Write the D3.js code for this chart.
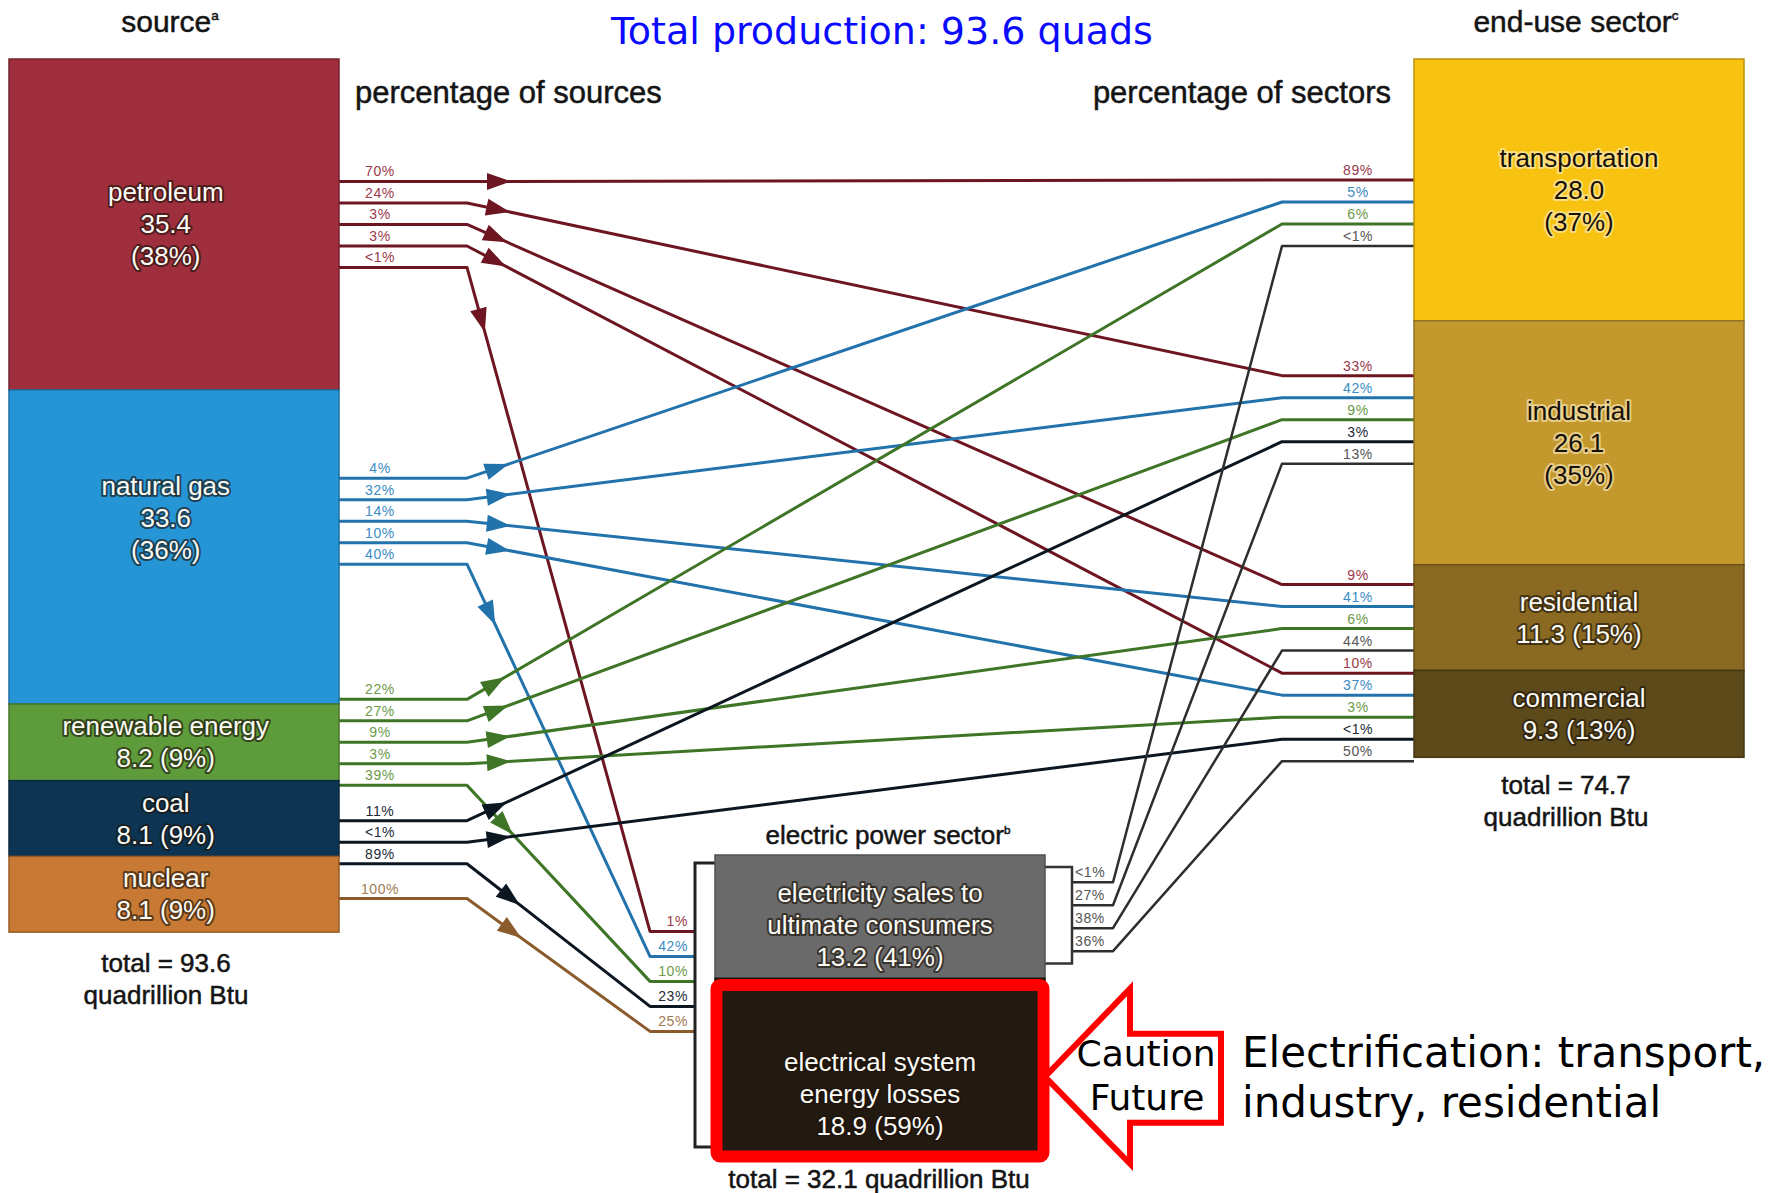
<!DOCTYPE html>
<html>
<head>
<meta charset="utf-8">
<script src="https://cdn.jsdelivr.net/npm/d3@7"></script>
<style>
  html, body { margin: 0; padding: 0; background: #fff; }
  svg { display: block; }
</style>
</head>
<body>
<svg id="chart" width="1785" height="1193"></svg>
<script>
// ---- data, quadrillion Btu ----
const sourceNames = ["petroleum", "natural gas", "renewable energy", "coal", "nuclear"];
const sourceValues = [35.4, 33.6, 8.2, 8.1, 8.1];
const sourceShares = ["38%", "36%", "9%", "9%", "9%"];
const sourceTotal = 93.6; // as printed (the rounded parts add up to 93.4)

const sectorNames = ["transportation", "industrial", "residential", "commercial"];
const sectorValues = [28.0, 26.1, 11.3, 9.3];
const sectorShares = ["37%", "35%", "15%", "13%"];

const powerNames = ["electricity sales to|ultimate consumers", "electrical system|energy losses"];
const powerValues = [13.2, 18.9];
const powerShares = ["41%", "59%"];

// [from, to, share of "from", share of "to"]
const flows = [
  ["petroleum", "transportation", "70%", "89%"],
  ["petroleum", "industrial", "24%", "33%"],
  ["petroleum", "residential", "3%", "9%"],
  ["petroleum", "commercial", "3%", "10%"],
  ["petroleum", "electric power", "<1%", "1%"],
  ["natural gas", "transportation", "4%", "5%"],
  ["natural gas", "industrial", "32%", "42%"],
  ["natural gas", "residential", "14%", "41%"],
  ["natural gas", "commercial", "10%", "37%"],
  ["natural gas", "electric power", "40%", "42%"],
  ["renewable energy", "transportation", "22%", "6%"],
  ["renewable energy", "industrial", "27%", "9%"],
  ["renewable energy", "residential", "9%", "6%"],
  ["renewable energy", "commercial", "3%", "3%"],
  ["renewable energy", "electric power", "39%", "10%"],
  ["coal", "industrial", "11%", "3%"],
  ["coal", "commercial", "<1%", "<1%"],
  ["coal", "electric power", "89%", "23%"],
  ["nuclear", "electric power", "100%", "25%"],
  ["electricity", "transportation", "<1%", "<1%"],
  ["electricity", "industrial", "27%", "13%"],
  ["electricity", "residential", "38%", "44%"],
  ["electricity", "commercial", "36%", "50%"]
];

// ---- styles ----
const boxFill = {
  "petroleum": "#a02f3e", "natural gas": "#2595d6", "renewable energy": "#5e9b3a",
  "coal": "#0d3452", "nuclear": "#c87a34",
  "transportation": "#f8c310", "industrial": "#c3992e", "residential": "#8a6a22", "commercial": "#5d4a1b",
  "sales": "#6a6a6a", "losses": "#221910"
};
const lineColor = {
  "petroleum": "#6d1622", "natural gas": "#2273ac", "renewable energy": "#3e7526",
  "coal": "#0b1620", "nuclear": "#8b5b2e", "electricity": "#2e2e2e"
};
const tagColor = {
  "petroleum": "#9a3a4a", "natural gas": "#3a8cc4", "renewable energy": "#6c9a48",
  "coal": "#1c2a38", "nuclear": "#a07a52", "electricity": "#555555"
};
const darkText = new Set(["transportation", "industrial"]);
const sansFont = "'Liberation Sans', Arial, sans-serif";
const noteFont = "'DejaVu Sans', Verdana, sans-serif";
// nudges of where a group of lines sits inside a box, in line-gap units
const slotShift = { "natural gas": -1.2, "coal": 1.1, "nuclear": 0.2, "transportation": 1.05, "industrial": -1.05, "commercial": 0.15 };
const labelShift = { "natural gas": -0.9, "losses": 0.85, "sales": 0.25 };

const svg = d3.select("#chart").style("font-family", sansFont);
const fmt = d3.format(".1f");
const H = d3.scaleLinear().domain([0, sourceTotal]).range([0, 875]);

function column(names, values, shares, x0, x1, yStart, keys) {
  let acc = 0;
  return names.map((name, i) => {
    const n = { name, key: keys ? keys[i] : name, value: values[i], share: shares[i],
      x0, x1, y0: yStart + H(acc), y1: yStart + H(acc + values[i]) };
    acc += values[i];
    return n;
  });
}
const sources = column(sourceNames, sourceValues, sourceShares, 9, 339, 59);
const sectors = column(sectorNames, sectorValues, sectorShares, 1414, 1744, 59);
const power = column(powerNames, powerValues, powerShares, 715, 1045, 855, ["sales", "losses"]);
const node = new Map([...sources, ...sectors].map(d => [d.name, d]));
const sales = power[0], losses = power[1];

// layout of the connecting lines
const kinkL = 467, kinkR = 1282, bracketL = 695, elecIn = 650, bracketR = 1072, elecOut = 1113;
const gapSrc = 21.5, gapSec = 22, gapElecIn = 25, gapElecOut = 23;

function slotScale(list, centre, gap) {
  const n = list.length;
  return d3.scalePoint().domain(list.map(f => flows.indexOf(f)))
    .range([centre - (n - 1) / 2 * gap, centre + (n - 1) / 2 * gap]);
}
const outScale = new Map(), inScale = new Map();
d3.group(flows, f => f[0]).forEach((list, name) => {
  if (name === "electricity") outScale.set(name, slotScale(list, (sales.y0 + sales.y1) / 2, gapElecOut));
  else {
    const n = node.get(name);
    outScale.set(name, slotScale(list, (n.y0 + n.y1) / 2 + (slotShift[name] || 0) * gapSrc, gapSrc));
  }
});
d3.group(flows, f => f[1]).forEach((list, name) => {
  if (name === "electric power") inScale.set(name, slotScale(list, sales.y1 + 3, gapElecIn));
  else {
    const n = node.get(name);
    inScale.set(name, slotScale(list, (n.y0 + n.y1) / 2 + (slotShift[name] || 0) * gapSec, gapSec));
  }
});

const links = flows.map((f, i) => {
  const ys = outScale.get(f[0])(i), yt = inScale.get(f[1])(i);
  let pts;
  if (f[0] === "electricity") pts = [[bracketR, ys], [elecOut, ys], [kinkR, yt], [sectors[0].x0, yt]];
  else if (f[1] === "electric power") pts = [[sources[0].x1, ys], [kinkL, ys], [elecIn, yt], [bracketL, yt]];
  else pts = [[sources[0].x1, ys], [kinkL, ys], [kinkR, yt], [sectors[0].x0, yt]];
  return { from: f[0], to: f[1], fromPct: f[2], toPct: f[3], ys, yt, pts };
});

const lineGen = d3.line();
const linkG = svg.append("g").attr("fill", "none").attr("stroke-linejoin", "round");
linkG.selectAll("path").data(links).join("path")
  .attr("d", d => lineGen(d.pts))
  .attr("stroke", d => lineColor[d.from])
  .attr("stroke-width", d => d.from === "electricity" ? 2.5 : 3);

// arrow heads just after the first bend
const arrows = links.filter(d => d.from !== "electricity").map(d => {
  const [a, b] = [d.pts[1], d.pts[2]];
  const len = Math.hypot(b[0] - a[0], b[1] - a[1]);
  const ux = (b[0] - a[0]) / len, uy = (b[1] - a[1]) / len;
  const dist = d.to === "electric power" ? 55 : 32;
  const cx = a[0] + ux * dist, cy = a[1] + uy * dist;
  const L = 12, W = 8.5;
  return { color: lineColor[d.from], pts: [
    [cx + ux * L, cy + uy * L],
    [cx - ux * L - uy * W, cy - uy * L + ux * W],
    [cx - ux * L + uy * W, cy - uy * L - ux * W]] };
});
svg.append("g").selectAll("path").data(arrows).join("path")
  .attr("d", d => lineGen(d.pts) + "Z")
  .attr("fill", d => d.color);

// percentage tags
const tagG = svg.append("g").attr("font-size", 14).attr("letter-spacing", 0.6);
tagG.selectAll("text.from").data(links).join("text")
  .attr("class", "from")
  .attr("x", d => d.from === "electricity" ? bracketR + 3 : 380)
  .attr("y", d => d.ys - 5)
  .attr("text-anchor", d => d.from === "electricity" ? "start" : "middle")
  .attr("fill", d => tagColor[d.from])
  .text(d => d.fromPct);
tagG.selectAll("text.to").data(links).join("text")
  .attr("class", "to")
  .attr("x", d => d.to === "electric power" ? bracketL - 7 : 1358)
  .attr("y", d => d.yt - 5)
  .attr("text-anchor", d => d.to === "electric power" ? "end" : "middle")
  .attr("fill", d => tagColor[d.from])
  .text(d => d.toPct);

// brackets of the electric power sector
svg.append("path")
  .attr("d", lineGen([[sales.x0, sales.y0 + 8], [bracketL, sales.y0 + 8], [bracketL, losses.y1 - 8], [losses.x0 + 7, losses.y1 - 8]]))
  .attr("fill", "none").attr("stroke", "#222").attr("stroke-width", 3);
svg.append("path")
  .attr("d", lineGen([[sales.x1, sales.y0 + 12], [bracketR, sales.y0 + 12], [bracketR, sales.y1 - 15], [sales.x1, sales.y1 - 15]]))
  .attr("fill", "none").attr("stroke", "#333").attr("stroke-width", 2.5);

// boxes
const boxes = [...sources, ...sectors, ...power];
svg.append("g").selectAll("rect").data(boxes).join("rect")
  .attr("x", d => d.x0).attr("y", d => d.y0)
  .attr("width", d => d.x1 - d.x0).attr("height", d => d.y1 - d.y0)
  .attr("fill", d => boxFill[d.key])
  .attr("stroke", d => d3.color(boxFill[d.key]).darker(0.8))
  .attr("stroke-width", 1.5);

// red highlight round the losses box
svg.append("rect")
  .attr("x", losses.x0 + 1.5).attr("y", losses.y0 + 6.5)
  .attr("width", losses.x1 - losses.x0 - 3).attr("height", losses.y1 - losses.y0 - 5)
  .attr("rx", 4)
  .attr("fill", "none").attr("stroke", "#ff0000").attr("stroke-width", 12);

// box labels
const lineH = 32;
boxes.forEach(d => {
  const h = d.y1 - d.y0;
  let lines;
  if (d.name.includes("|")) lines = [...d.name.split("|"), `${fmt(d.value)} (${d.share})`];
  else if (h > 150) lines = [d.name, fmt(d.value), `(${d.share})`];
  else lines = [d.name, `${fmt(d.value)} (${d.share})`];
  const cx = d.x0 + (d.x1 - d.x0) * (sectors.includes(d) || power.includes(d) ? 0.5 : 0.475);
  const cy = (d.y0 + d.y1) / 2 + (labelShift[d.key] || 0) * lineH;
  const dark = darkText.has(d.name);
  svg.append("text")
    .attr("x", cx).attr("font-size", 26).attr("text-anchor", "middle")
    .attr("fill", dark ? "#161006" : "#fbfbf6")
    .attr("paint-order", "stroke")
    .attr("stroke", dark ? "rgba(255,240,200,0.6)" : "rgba(30,20,10,0.65)")
    .attr("stroke-width", 4).attr("stroke-linejoin", "round")
    .selectAll("tspan").data(lines).join("tspan")
    .attr("x", cx)
    .attr("y", (t, i) => cy + (i - (lines.length - 1) / 2) * lineH + 9)
    .text(t => t);
});

// headings
function heading(x, y, txt, sup, size, anchor) {
  const t = svg.append("text").attr("x", x).attr("y", y).attr("font-size", size)
    .attr("text-anchor", anchor || "middle").attr("fill", "#141414")
    .attr("stroke", "#141414").attr("stroke-width", 0.5).text(txt);
  if (sup) t.append("tspan").attr("font-size", size * 0.45).attr("dy", -size * 0.4).text(sup);
  return t;
}
heading(170, 32, "source", "a", 30);
heading(1576, 32, "end-use sector", "c", 30);
heading(355, 103, "percentage of sources", null, 31, "start");
heading(1391, 103, "percentage of sectors", null, 31, "end");
heading(888, 844, "electric power sector", "b", 26);

const secTotal = d3.sum(sectorValues), powTotal = d3.sum(powerValues);
heading(166, 972, `total = ${fmt(sourceTotal)}`, null, 26);
heading(166, 1004, "quadrillion Btu", null, 26);
heading(1566, 794, `total = ${fmt(secTotal)}`, null, 26);
heading(1566, 826, "quadrillion Btu", null, 26);
heading(879, 1188, `total = ${fmt(powTotal)} quadrillion Btu`, null, 26);

svg.append("text")
  .attr("x", 882).attr("y", 44).attr("text-anchor", "middle")
  .style("font-family", noteFont).attr("font-size", 38)
  .attr("fill", "#0a0aff")
  .text(`Total production: ${fmt(sourceTotal)} quads`);

// "Caution / Future" arrow note
const tipX = losses.x1, tipY = (losses.y0 + losses.y1) / 2 + 10;
svg.append("path")
  .attr("d", lineGen([[tipX, tipY], [tipX + 85, tipY - 88], [tipX + 85, tipY - 43], [tipX + 176, tipY - 43],
    [tipX + 176, tipY + 46], [tipX + 85, tipY + 46], [tipX + 85, tipY + 87]]) + "Z")
  .attr("fill", "#fff").attr("stroke", "#ff0000").attr("stroke-width", 6).attr("stroke-linejoin", "miter");
svg.append("text").attr("x", tipX + 101).attr("y", 1066).attr("text-anchor", "middle")
  .style("font-family", noteFont).attr("font-size", 36).attr("fill", "#000").text("Caution");
svg.append("text").attr("x", tipX + 102).attr("y", 1110).attr("text-anchor", "middle")
  .style("font-family", noteFont).attr("font-size", 36).attr("fill", "#000").text("Future");
svg.append("text").attr("x", 1242).attr("y", 1067)
  .style("font-family", noteFont).attr("font-size", 42).attr("fill", "#000").text("Electrification: transport,");
svg.append("text").attr("x", 1242).attr("y", 1117)
  .style("font-family", noteFont).attr("font-size", 42).attr("fill", "#000").text("industry, residential");
</script>
</body>
</html>
